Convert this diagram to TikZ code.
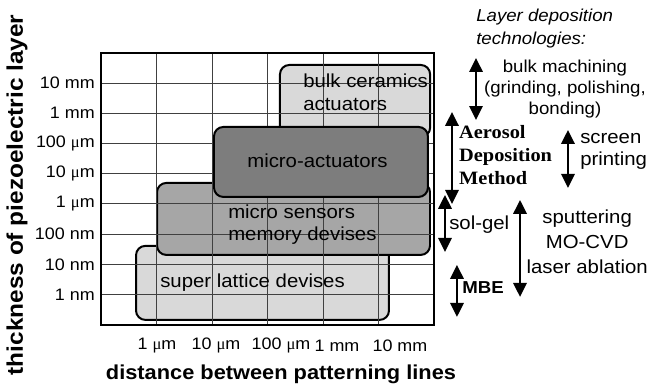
\documentclass[tikz,border=0pt]{standalone}
\usepackage{fontspec}
\setmainfont{Liberation Sans}[FakeStretch=1.08]
\newfontfamily\aerofont{Liberation Serif}[FakeStretch=1.08]
\newfontfamily\mufont{Liberation Serif}
\usetikzlibrary{arrows.meta}

\newcommand{\umu}{{\mufont μ}m}

\definecolor{lightbox}{gray}{0.85}
\definecolor{midbox}{gray}{0.65}
\definecolor{darkbox}{gray}{0.49}
\definecolor{gridgray}{gray}{0.25}

\tikzset{
  box/.style={draw=black,line width=1.5pt,rounded corners=7pt},
  tick/.style={font=\fontsize{12.5}{15}\selectfont},
  lbl/.style={font=\fontsize{14.2}{17}\selectfont,align=left},
  dbl/.style={line width=1.8pt,{Triangle[width=10pt,length=10.5pt]}-{Triangle[width=10pt,length=10.5pt]}},
}

\begin{document}
\begin{tikzpicture}[x=1.469cm,y=0.8004cm]

      \useasboundingbox (-1.820,-2.149) rectangle (9.892,10.744);

      % application boxes
      \draw[box,fill=lightbox] (3.225,6.215) rectangle (5.93,8.595);
      \draw[box,fill=lightbox] (0.631,0.165) rectangle (5.189,2.612);
      \draw[box,fill=midbox]   (1.009,2.314) rectangle (5.928,4.694);

      \draw[gridgray,line width=0.7pt,step=1] (0,0) grid (6,9);

      \draw[box,fill=darkbox]  (2.036,4.231) rectangle (5.89,6.545);

      \draw[line width=1.5pt] (0,0) rectangle (6,9);

      \begin{scope}[every node/.style={inner sep=0pt}]

        \node[lbl,anchor=west] (bulk) at (3.64,7.686)  {bulk ceramics\\actuators};
        \node[lbl]             (act)  at (3.90,5.43)   {micro-actuators};
        \node[lbl,anchor=west] (sens) at (2.288,3.32)  {micro sensors\\memory devises};
        \node[lbl,anchor=west] (lat)  at (1.063,1.388) {super lattice devises};

        \begin{scope}[every node/.style={tick,inner sep=0pt,anchor=east}]
          \node (y8) at (-0.108,8) {10 mm};
          \node (y7) at (-0.108,7) {1 mm};
          \node (y6) at (-0.108,6) {100 \umu};
          \node (y5) at (-0.108,5) {10 \umu};
          \node (y4) at (-0.108,4) {1 \umu};
          \node (y3) at (-0.108,3) {100 nm};
          \node (y2) at (-0.108,2) {10 nm};
          \node (y1) at (-0.108,1) {1 nm};
        \end{scope}

        \begin{scope}[every node/.style={tick,inner sep=0pt}]
          \node (x1) at (1.009,-0.694) {1 \umu};
          \node (x2) at (2.072,-0.694) {10 \umu};
          \node (x3) at (3.243,-0.694) {100 \umu};
          \node (x4) at (4.252,-0.694) {1 mm};
          \node (x5) at (5.387,-0.694) {10 mm};
        \end{scope}

        \node[font=\bfseries\fontsize{15.2}{18}\selectfont] (xtitle) at (3.243,-1.62)
          {distance between patterning lines};
        \node[rotate=90,font=\bfseries\fontsize{17}{20}\selectfont] (ytitle) at (-1.514,4.298)
          {thickness of piezoelectric layer};

        % deposition methods
        \node[anchor=west,align=left,font=\itshape\fontsize{13}{17.2}\selectfont] (tech) at (6.757,9.802)
          {Layer deposition\\technologies:};
        \node[align=center,font=\fontsize{13}{15.7}\selectfont] (bm) at (8.36,7.802)
          {bulk machining\\(grinding, polishing,\\bonding)};
        \node[anchor=west,align=left,font=\aerofont\bfseries\fontsize{14.2}{17.2}\selectfont] (ad) at (6.45,5.62)
          {Aerosol\\Deposition\\Method};
        \node[lbl,anchor=west,font=\fontsize{14.2}{17.2}\selectfont] (sp) at (8.631,5.736) {screen\\printing};
        \node[lbl,anchor=west] (sg) at (6.27,3.306) {sol-gel};
        \node[anchor=west,font=\bfseries\fontsize{13}{15}\selectfont] (mbe) at (6.505,1.223) {MBE};
        \node[align=center,font=\fontsize{14.2}{18.7}\selectfont] (pvd) at (8.76,2.744)
          {sputtering\\MO-CVD\\laser ablation};

      \end{scope}

      \coordinate (bm1) at (6.757,8.826);
      \coordinate (bm2) at (6.757,6.777);
      \coordinate (ad1) at (6.324,7.041);
      \coordinate (ad2) at (6.324,4.0);
      \coordinate (sp1) at (8.414,6.446);
      \coordinate (sp2) at (8.414,4.529);
      \coordinate (sg1) at (6.198,4.298);
      \coordinate (sg2) at (6.198,2.413);
      \coordinate (mb1) at (6.414,1.983);
      \coordinate (mb2) at (6.414,0.264);
      \coordinate (pv1) at (7.550,4.132);
      \coordinate (pv2) at (7.550,0.926);

      \begin{scope}[every edge/.style={draw,dbl}]
        \path (bm1) edge (bm2);
        \path (ad1) edge (ad2);
        \path (sp1) edge (sp2);
        \path (sg1) edge (sg2);
        \path (mb1) edge (mb2);
        \path (pv1) edge (pv2);
      \end{scope}

    \end{tikzpicture}
\end{document}
